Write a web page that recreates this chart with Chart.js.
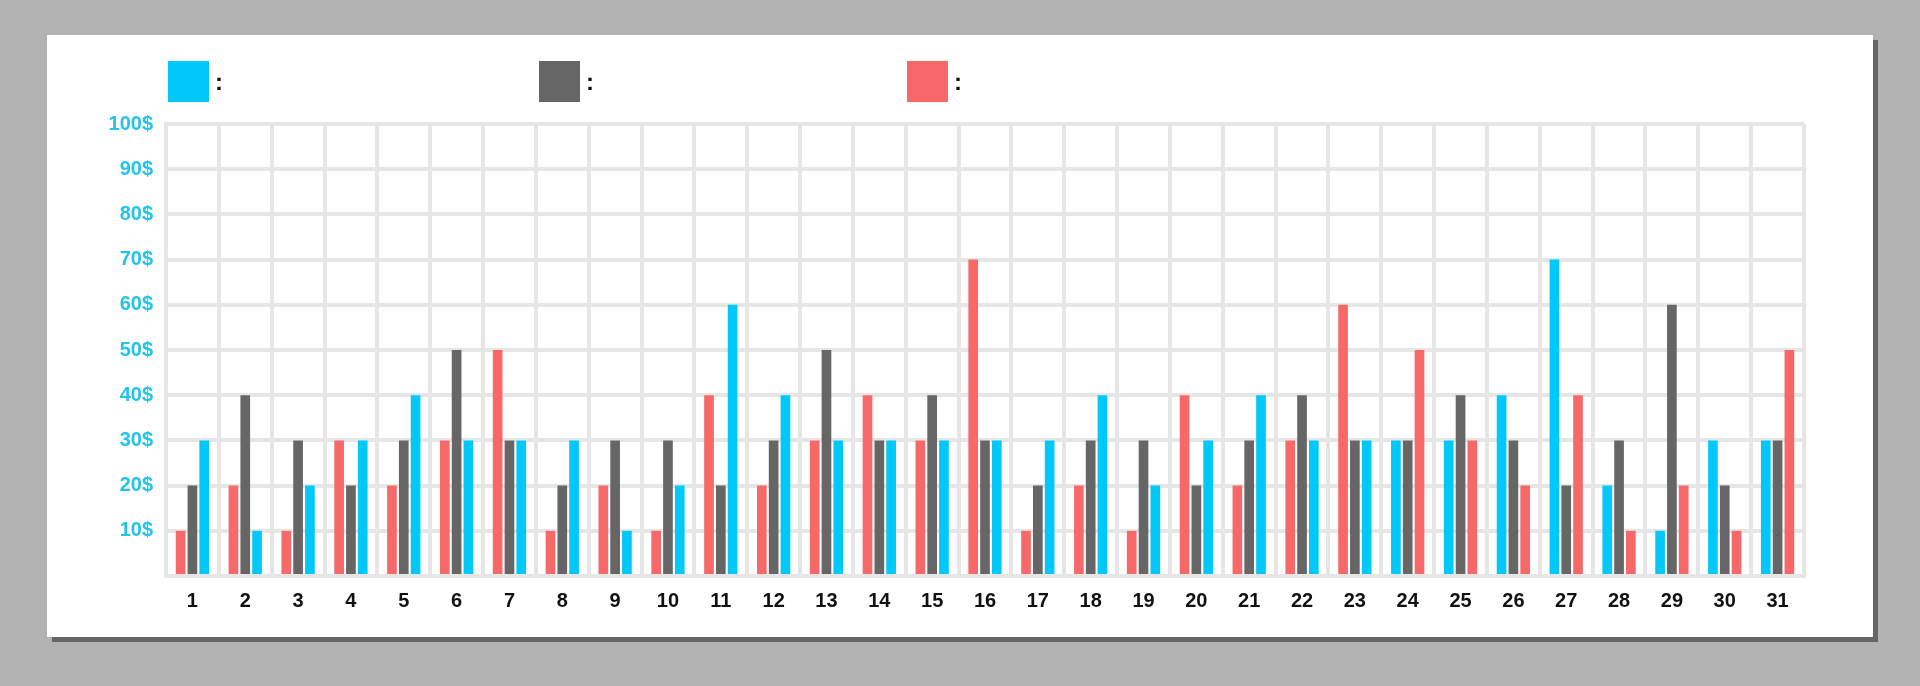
<!DOCTYPE html>
<html>
<head>
<meta charset="utf-8">
<script src="https://cdn.jsdelivr.net/npm/chart.js@4/dist/chart.umd.min.js"></script>
<style>
    html, body { margin: 0; padding: 0; }
    body { width: 1920px; height: 686px; background: #b3b3b3; position: relative; overflow: hidden; }
    #card {
        position: absolute; left: 47px; top: 35px; width: 1826px; height: 602px;
        background: #fff; box-shadow: 5px 5px 0 #666;
    }
    #card canvas { position: absolute; left: 0; top: 0; }
    .legend-item { position: absolute; top: 26px; height: 41px; }
    .legend-item .swatch { position: absolute; left: 0; top: 0; width: 41px; height: 41px; }
    .legend-item .label {
        position: absolute; left: 47px; top: 7px; font: bold 24px "Liberation Sans", Arial, sans-serif; color: #111;
    }
</style>
</head>
<body>
<div id="card">
    <canvas id="barChart" width="1826" height="602"></canvas>
    <div class="legend-item" style="left:121px"><div class="swatch" style="background:#00c8f8"></div><div class="label">:</div></div>
    <div class="legend-item" style="left:492px"><div class="swatch" style="background:#666666"></div><div class="label">:</div></div>
    <div class="legend-item" style="left:860px"><div class="swatch" style="background:#f76868"></div><div class="label">:</div></div>
</div>
<script>
// Data
////////////////////////////////////////////////
const days = ['1','2','3','4','5','6','7','8','9','10','11','12','13','14','15','16',
              '17','18','19','20','21','22','23','24','25','26','27','28','29','30','31'];
const cyanValues = [30,10,20,30,40,30,30,30,10,20,60,40,30,30,30,30,30,40,20,30,40,30,30,30,30,40,70,20,10,30,30];
const grayValues = [20,40,30,20,30,50,30,20,30,30,20,30,50,30,40,30,20,30,30,20,30,40,30,30,40,30,20,30,60,20,30];
const redValues  = [10,20,10,30,20,30,50,10,20,10,40,20,30,40,30,70,10,20,10,40,20,30,60,50,30,20,40,10,20,10,50];
const yTicks = [0,10,20,30,40,50,60,70,80,90,100];
// from this day on the cyan bar comes first and the red one last
const flipFromDay = 24;

const CYAN = '#00c8f8';
const GRAY = '#666666';
const RED = '#f76868';
const GRID = '#e6e6e6';
const FONT = '"Liberation Sans Narrow", "Liberation Sans", Arial, sans-serif';

// bars are placed by slot (left / middle / right), colour follows the series
const flipped = days.map(d => +d >= flipFromDay);
const leftSlot = {
    data: days.map((d, i) => flipped[i] ? cyanValues[i] : redValues[i]),
    backgroundColor: days.map((d, i) => flipped[i] ? CYAN : RED)
};
const rightSlot = {
    data: days.map((d, i) => flipped[i] ? redValues[i] : cyanValues[i]),
    backgroundColor: days.map((d, i) => flipped[i] ? RED : CYAN)
};

const barOpts = { categoryPercentage: 0.67, barPercentage: 0.82, borderWidth: 0 };

const config = {
    type: 'bar',
    data: {
        labels: days,
        datasets: [
            Object.assign({ label: 'left' }, leftSlot, barOpts),
            Object.assign({ label: 'middle', data: grayValues, backgroundColor: GRAY }, barOpts),
            Object.assign({ label: 'right' }, rightSlot, barOpts)
        ]
    },
    options: {
        responsive: false,
        animation: false,
        devicePixelRatio: 1,
        layout: { padding: { top: 89, right: 69, bottom: 0, left: 0 } },
        plugins: { legend: { display: false }, tooltip: { enabled: false } },
        scales: {
            x: {
                grid: { color: GRID, lineWidth: 4, drawTicks: false, offset: true },
                border: { display: true, color: GRID, width: 4 },
                ticks: {
                    color: '#111',
                    padding: 13,
                    font: { family: FONT, size: 20, weight: 'bold' }
                },
                afterFit: scale => { scale.height = 61; }
            },
            y: {
                min: 0,
                max: 100,
                afterBuildTicks: scale => { scale.ticks = yTicks.map(v => ({ value: v })); },
                grid: { color: GRID, lineWidth: 4, drawTicks: false },
                border: { display: true, color: GRID, width: 4 },
                ticks: {
                    color: '#22c4e8',
                    padding: 13,
                    font: { family: FONT, size: 20, weight: 'bold' },
                    callback: v => v === 0 ? '' : v + '$'
                },
                afterFit: scale => { scale.width = 119; }
            }
        }
    }
};

const barChart = new Chart(document.getElementById('barChart'), config);
</script>
</body>
</html>
